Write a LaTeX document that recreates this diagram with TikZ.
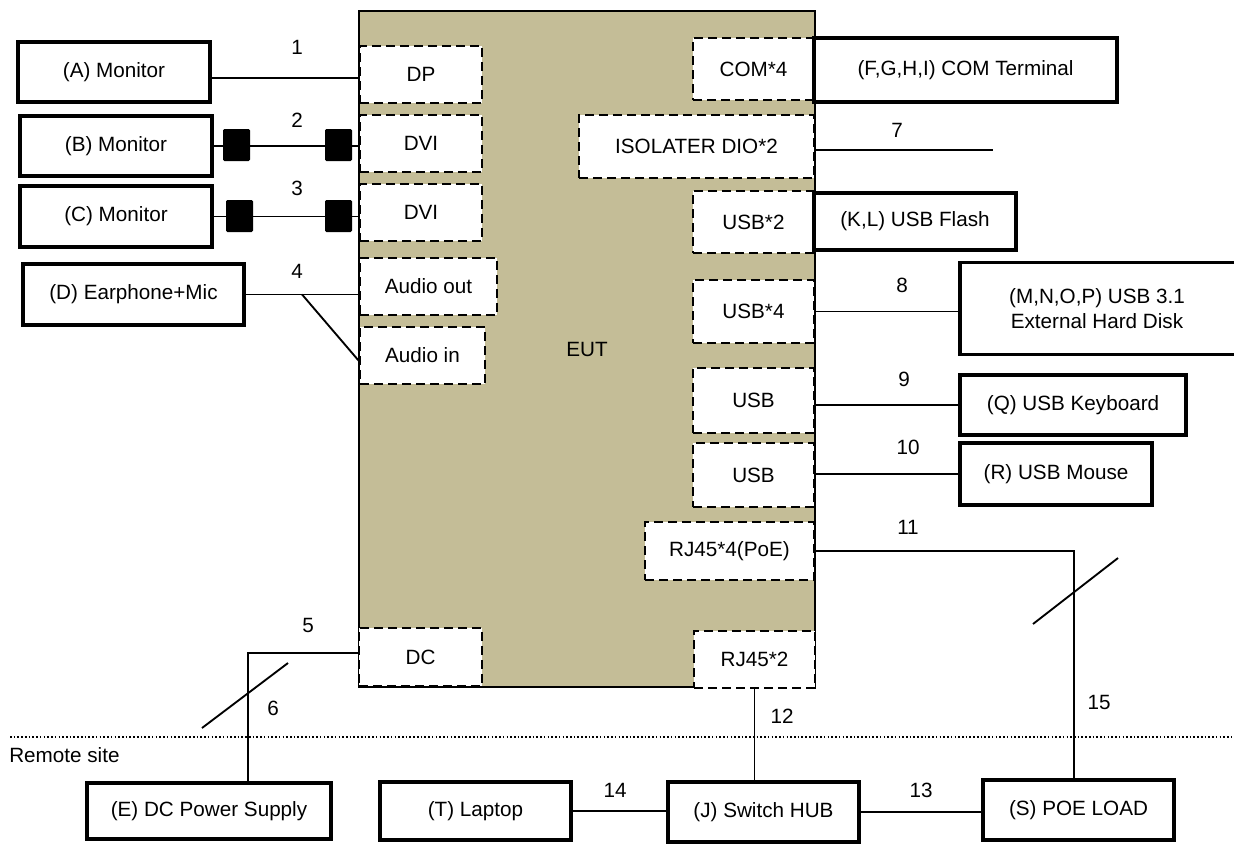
\documentclass[tikz,border=0pt]{standalone}
\usepackage{fontspec}
\setmainfont{Liberation Sans}
\usepackage{tikz}
\usetikzlibrary{calc}
\usepackage{xcolor}
\newlength\px
\setlength\px{0.75pt}
\definecolor{eutfill}{RGB}{196,189,151}

\begin{document}
\begin{tikzpicture}[x=0.75pt, y=-0.75pt,
  every node/.style={font=\fontsize{15.5}{18.75}\selectfont, inner sep=0pt},
  wh/.style 2 args={minimum width=#1\px, minimum height=#2\px},
  devbox/.style={draw, line width=2.4pt, fill=white, align=center},
  portbox/.style={draw, line width=2.2pt, dash pattern=on 7pt off 3.5pt, fill=white},
  eutbox/.style={draw, line width=2.2pt, fill=eutfill},
  plug/.style={fill=black, wh={27}{32}, rounded corners=1pt},
  wire/.style={line width=1.4pt},
  sitebreak/.style={line width=1.1pt, dash pattern=on 1.2pt off 1.6pt}]
  \useasboundingbox (0,0) rectangle (1234,843);

  % EUT with its ports
  \node[eutbox, wh={456}{676}] (eut) at (587,349) {EUT};
  \node[portbox, wh={122}{57}] (dp) at (421,74.5) {DP};
  \node[portbox, wh={122}{57}] (dvia) at (421,143.5) {DVI};
  \node[portbox, wh={122}{57}] (dvib) at (421,212.5) {DVI};
  \node[portbox, wh={137}{57}] (aout) at (428.5,286.5) {Audio out};
  \node[portbox, wh={125}{57}] (ain) at (422.5,355.5) {Audio in};
  \node[portbox, wh={123}{58}] (dc) at (420.5,657) {DC};
  \node[portbox, wh={121}{62}] (com) at (753.5,69) {COM*4};
  \node[portbox, wh={235}{63}] (dio) at (696.5,146.5) {ISOLATER DIO*2};
  \node[portbox, wh={121}{62}] (usbb) at (753.5,222) {USB*2};
  \node[portbox, wh={121}{63}] (usbd) at (753.5,311.5) {USB*4};
  \node[portbox, wh={121}{65}] (usbk) at (753.5,400.5) {USB};
  \node[portbox, wh={121}{64}] (usbm) at (753.5,475) {USB};
  \node[portbox, wh={169}{58}] (rjpoe) at (729.5,551) {RJ45*4(PoE)};
  \node[portbox, wh={121}{57}] (rjlan) at (754.5,659.5) {RJ45*2};

  % Peripherals
  \node[devbox, wh={192}{60}] (monA) at (114,72) {(A) Monitor};
  \node[devbox, wh={192}{60}] (monB) at (116,146) {(B) Monitor};
  \node[devbox, wh={192}{61}] (monC) at (116,216.5) {(C) Monitor};
  \node[devbox, wh={221}{61}] (ear) at (133.5,294.5) {(D) Earphone+Mic};
  \node[devbox, wh={244}{56}] (dcps) at (209,811) {(E) DC Power Supply};
  \node[devbox, wh={303}{64}] (comterm) at (965.5,70) {(F,G,H,I) COM Terminal};
  \node[devbox, wh={202}{57}] (flash) at (915,221.5) {(K,L) USB Flash};
  \node[devbox, wh={290}{92}] (hdd) at (1105,308.5) {};
  \node[align=center] (hddtext) at (1097,309) {(M,N,O,P) USB 3.1\\External Hard Disk};
  \node[devbox, wh={226}{60}] (kbd) at (1073,405) {(Q) USB Keyboard};
  \node[devbox, wh={192}{62}] (mouse) at (1056,474) {(R) USB Mouse};
  \node[devbox, wh={191}{58}] (laptop) at (475.5,811) {(T) Laptop};
  \node[devbox, wh={191}{60}] (hub) at (763.5,812) {(J) Switch HUB};
  \node[devbox, wh={191}{60}] (poe) at (1078.5,810) {(S) POE LOAD};

  % Cables
  \draw[wire] ([yshift=-6\px]monA.east) -- ([yshift=-6\px]monA.east -| dp.west);
  \draw[wire] (monB.east) -- (monB.east -| dvia.west);
  \draw[wire] (monC.east) -- (monC.east -| dvib.west);
  \node[plug] (plugBl) at (236.5,145) {};
  \node[plug] (plugBr) at (338.5,145) {};
  \node[plug] (plugCl) at (239.5,216) {};
  \node[plug] (plugCr) at (338.5,216) {};
  \draw[wire] (ear.east) -- (ear.east -| aout.west);
  \coordinate (split4) at ($(ear.east)!0.5!(ear.east -| aout.west)$);
  \draw[wire] (split4) -- ([yshift=-5\px]ain.west);
  \draw[wire] ([yshift=4\px]dc.west) -| ([xshift=39\px]dcps.north);
  \coordinate (dioend) at (993,150);
  \draw[wire] (dio.east |- dioend) -- (dioend);
  \draw[wire] (usbd.east) -- (usbd.east -| hdd.west);
  \draw[wire] (kbd.west -| usbk.east) -- (kbd.west);
  \draw[wire] (mouse.west -| usbm.east) -- (mouse.west);
  \draw[wire] (rjpoe.east) -| ([xshift=-4.5\px]poe.north);
  \draw[wire] (rjlan.south) -- (rjlan.south |- hub.north);
  \draw[wire] (hub.east) -- (hub.east -| poe.west);
  \draw[wire] (laptop.east) -- (laptop.east -| hub.west);

  % Slashes on the long cables
  \draw[wire] (202,728) -- (288,663);
  \draw[wire] (1033,624) -- (1118,558);

  % Cable numbers
  \node (n1) at (297,47) {1};
  \node (n2) at (297,120) {2};
  \node (n3) at (297,188) {3};
  \node (n4) at (297,271) {4};
  \node (n5) at (308,625) {5};
  \node (n6) at (273,708) {6};
  \node (n7) at (897,130) {7};
  \node (n8) at (902,285) {8};
  \node (n9) at (904,379) {9};
  \node (n10) at (908,447) {10};
  \node (n11) at (908,527) {11};
  \node (n12) at (782,716) {12};
  \node (n13) at (921,790) {13};
  \node (n14) at (615,790) {14};
  \node (n15) at (1099,702) {15};

  % Remote site border
  \draw[sitebreak] (10,737) -- (1234,737);
  \node[anchor=west] (remote) at (9,755) {Remote site};
\end{tikzpicture}
\end{document}
